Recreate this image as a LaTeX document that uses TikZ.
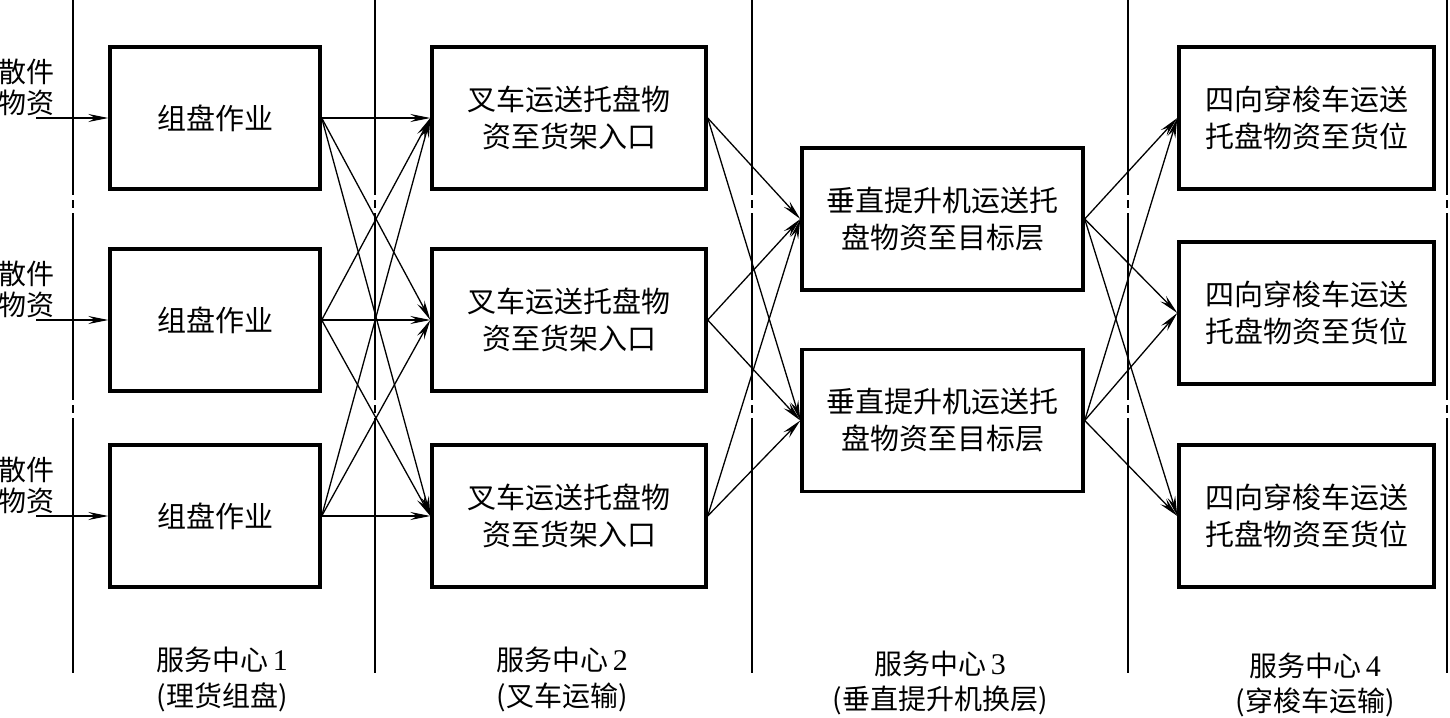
\documentclass[tikz,border=0pt]{standalone}
\usepackage{fontspec}
\setmainfont{Noto Sans CJK SC}
\newfontfamily\dig{Liberation Serif}
\usetikzlibrary{arrows.meta}
\begin{document}
\begin{tikzpicture}[x=1pt,y=-1pt,
  box/.style={draw,line width=3.4pt,minimum height=142pt,inner sep=0pt,align=center,
    font=\fontsize{29}{37}\selectfont},
  arr/.style={line width=1.3pt,-{Stealth[length=20pt,width=8pt,inset=7pt]}},
  sep/.style={line width=1.2pt,dash pattern=on 195pt off 5pt on 8pt off 5pt on 187pt off 5pt on 8pt off 5pt on 400pt off 1pt},
  inlab/.style={anchor=west,inner sep=0pt,align=left,font=\fontsize{28}{31}\selectfont},
  botlab/.style={inner sep=0pt,font=\fontsize{28}{34}\selectfont}]
\fill[white] (0,0) rectangle (1450,717);
\useasboundingbox (0,0) rectangle (1450,717);
% separators
\foreach \x in {73,375,752,1128,1447}
  \draw[sep] (\x,0) -- (\x,673);
% column 1
\foreach \i/\y in {1/118,2/320,3/516}{
  \node[box,minimum width=210pt] (a\i) at (215,\y) {组盘作业};
  \node[inlab] (in\i) at (-2,\y-31) {散件\\物资};
  \coordinate (s\i) at (36,\y);
  \draw[arr] (s\i) -- (a\i.west);
}
% column 2
\foreach \i/\y in {1/118,2/320,3/516}
  \node[box,minimum width=274pt] (b\i) at (569,\y) {叉车运送托盘物\\资至货架入口};
% column 3
\foreach \i/\y in {1/219,2/420.5}
  \node[box,minimum width=281pt] (c\i) at (942.5,\y) {垂直提升机运送托\\盘物资至目标层};
% column 4
\foreach \i/\y in {1/118,2/313,3/516}
  \node[box,minimum width=255pt] (d\i) at (1306.5,\y) {四向穿梭车运送\\托盘物资至货位};
% connectors
\foreach \i in {1,2,3}
  \foreach \j in {1,2,3}
    \draw[arr] (a\i.east) -- (b\j.west);
\foreach \i in {1,2,3}
  \foreach \j in {1,2}
    \draw[arr] (b\i.east) -- (c\j.west);
\foreach \i in {1,2}
  \foreach \j in {1,2,3}
    \draw[arr] (c\i.east) -- (d\j.west);
% bottom labels
\node[botlab] (l1) at (222,660) {服务中心\,{\dig\fontsize{30}{34}\selectfont 1}};
\node[botlab] (m1) at (222,697) {(理货组盘)};
\node[botlab] (l2) at (562,660) {服务中心\,{\dig\fontsize{30}{34}\selectfont 2}};
\node[botlab] (m2) at (562,697) {(叉车运输)};
\node[botlab] (l3) at (940,664) {服务中心\,{\dig\fontsize{30}{34}\selectfont 3}};
\node[botlab] (m3) at (940,700) {(垂直提升机换层)};
\node[botlab] (l4) at (1315,666) {服务中心\,{\dig\fontsize{30}{34}\selectfont 4}};
\node[botlab] (m4) at (1315,702) {(穿梭车运输)};
\end{tikzpicture}
\end{document}
